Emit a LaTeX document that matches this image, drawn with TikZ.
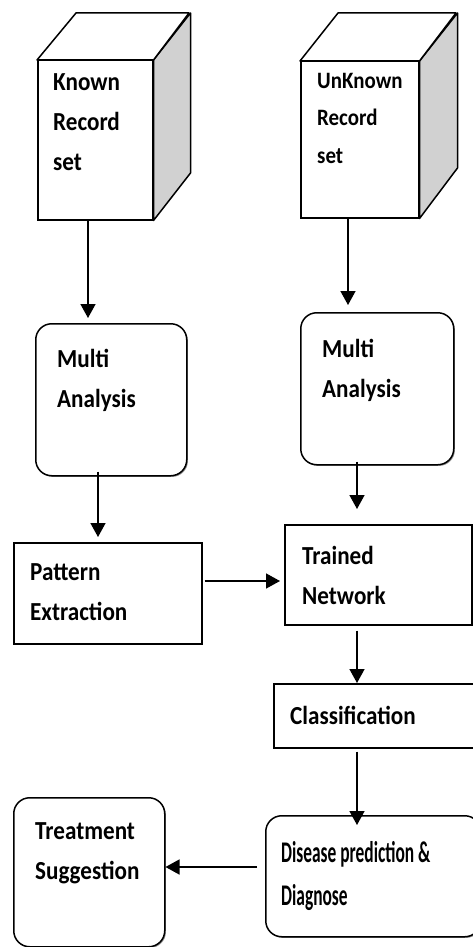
\documentclass[tikz,border=0pt]{standalone}
\usepackage{fontspec}
\setmainfont{Carlito}[FakeStretch=0.89]
\newfontfamily\narrowfont{Carlito}[FakeStretch=0.58]
\usetikzlibrary{arrows.meta,calc,shadows}

\begin{document}
\begin{tikzpicture}[x=1pt,y=-1pt,
  flow/.style={draw=black, line width=1.5pt, fill=white, inner sep=0pt, anchor=north west,
    drop shadow={shadow xshift=1.2pt, shadow yshift=-1.2pt, fill=black!50, opacity=0.8}},
  roundflow/.style={flow, rounded corners=16pt},
  face/.style={draw=black, line width=1.5pt, line join=round},
  lbl/.style={anchor=west, align=left, inner sep=0pt, font=\bfseries\fontsize{26}{40}\selectfont},
  arr/.style={-{Triangle[length=14pt,width=15pt]}, line width=1.5pt},
]
\useasboundingbox (0,0) rectangle (472,947);
\fill[white] (0,0) rectangle (472,947);

% known record set (cube)
\node[flow, minimum width=115pt, minimum height=159pt] (kc) at (37,60) {};
\draw[face, fill=black!18] (kc.north east) -- ++(37,-47) -- ++(0,160) -- (kc.south east) -- cycle;
\draw[face, fill=white] (kc.north west) -- ++(39,-47) -- ++(113,0) -- (kc.north east) -- cycle;
\node[lbl] (kct) at (53,122) {Known\\Record\\set};

% unknown record set (cube)
\node[flow, minimum width=118pt, minimum height=156pt] (uc) at (300,61) {};
\draw[face, fill=black!18] (uc.north east) -- ++(38,-48) -- ++(0,155) -- (uc.south east) -- cycle;
\draw[face, fill=white] (uc.north west) -- ++(38,-48) -- ++(118,0) -- (uc.north east) -- cycle;
\node[lbl, font=\bfseries\fontsize{23.5}{37.5}\selectfont] (uct) at (317,118) {UnKnown\\Record\\set};

% processing steps
\node[roundflow, minimum width=151pt, minimum height=152pt] (maL) at (35,323) {};
\node[lbl] (maLt) at (57,380) {Multi\\Analysis};

\node[roundflow, minimum width=153pt, minimum height=152pt] (maR) at (300,312) {};
\node[lbl] (maRt) at (322,370) {Multi\\Analysis};

\node[flow, minimum width=188pt, minimum height=101pt] (pe) at (13,542) {};
\node[lbl] (pet) at (30,592) {Pattern\\Extraction};

\node[flow, minimum width=187pt, minimum height=100pt] (tn) at (284,524) {};
\node[lbl] (tnt) at (302,575) {Trained\\Network};

\node[flow, minimum width=201pt, minimum height=64pt] (cl) at (273,683) {};
\node[lbl] (clt) at (290,715) {Classification};

\node[roundflow, minimum width=215pt, minimum height=121pt] (dp) at (265,815) {};
\node[lbl, font=\narrowfont\bfseries\fontsize{30}{43}\selectfont] (dpt) at (281,876) {Disease prediction \&\\Diagnose};

\node[roundflow, minimum width=151pt, minimum height=149pt] (tr) at (13,797) {};
\node[lbl] (trt) at (35,853) {Treatment\\Suggestion};

% connectors
\draw[arr] (88,0 |- kc.south) -- ([yshift=5pt]88,0 |- maL.north);
\draw[arr] (348,0 |- uc.south) -- ([yshift=7pt]348,0 |- maR.north);
\draw[arr] ([yshift=5pt]98,0 |- maL.south) -- ([yshift=5pt]98,0 |- pe.north);
\draw[arr] ([yshift=4pt]357,0 |- maR.south) -- ([yshift=15pt]357,0 |- tn.north);
\draw[arr] ([xshift=2pt]pe.east |- 0,581) -- ([xshift=-4pt]tn.west |- 0,581);
\draw[arr] ([yshift=-5pt]357,0 |- tn.south) -- (357,0 |- cl.north);
\draw[arr] ([yshift=-3pt]357,0 |- cl.south) -- ([yshift=-10pt]357,0 |- dp.north);
\draw[arr] ([xshift=-8pt]dp.west |- 0,867) -- (tr.east |- 0,867);
\end{tikzpicture}
\end{document}
